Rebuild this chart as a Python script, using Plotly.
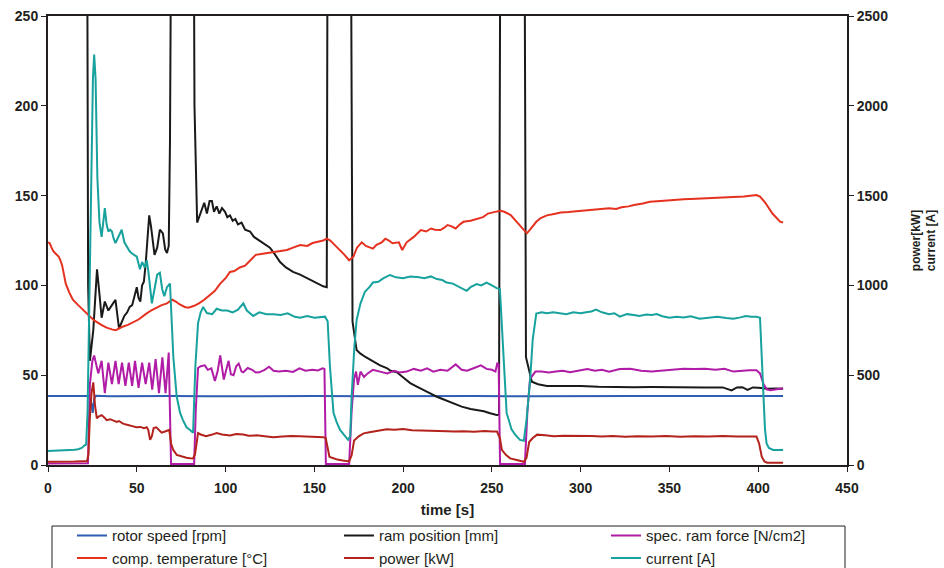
import plotly.graph_objects as go

# ---------------- data ----------------
x_ticks = [0, 50, 100, 150, 200, 250, 300, 350, 400, 450]

t_rotor = [0, 10, 20, 23, 24.5, 25.2, 26, 27, 35, 50, 70, 90, 120, 150, 180, 210, 240, 270, 300, 330, 360, 390, 414]
rotor_speed = [38.4, 38.5, 38.4, 38.4, 34, 29, 37, 38.6, 38.3, 38.5, 38.4, 38.3, 38.5, 38.4, 38.3, 38.5, 38.4, 38.3, 38.5, 38.4, 38.4, 38.5, 38.4]

t_ram = [0, 22.0, 22.6, 23.6, 25.5, 27.6, 29, 30.2, 32, 34, 36, 38, 40, 41.7, 43, 44.6, 46, 47.4, 49, 50,
         51, 52, 53, 54, 55, 56, 57, 58, 60, 61.5, 63, 64.7, 66, 67, 68, 68.7, 69.5, 82.0, 82.5, 84,
         86, 88, 89.5, 91, 92.3, 93.5, 95, 96.5, 98, 99.7, 101, 102.5, 104, 105.5, 107, 109, 111, 113.8, 116, 119,
         122, 125, 128, 130.7, 134, 138, 142, 146, 150, 153, 155, 157, 157.5, 170.5, 171.5, 173.8, 176, 179, 181.4, 184,
         187, 190.8, 193, 196.5, 200, 204, 208, 211.6, 215, 219, 224, 228.5, 233, 238, 242, 245.5, 249, 252.7, 254, 254.8,
         268.3, 269.2, 272.5, 276, 281, 290, 300, 310, 315, 320, 330, 340, 350, 360, 370, 380, 385, 388, 391, 394,
         397, 400, 405, 410, 414]
ram_position = [330, 330, 100, 58, 75, 109, 95, 82, 91, 86, 89, 92, 76, 80, 83, 85, 88, 89, 96, 99,
                93, 91, 100, 102, 112, 125, 139, 133, 117, 121, 131, 129, 120, 118, 122, 180, 330, 330, 200, 135,
                140, 146, 140, 147, 147, 141, 144, 140, 143, 141, 138, 139, 136, 137, 134, 135, 131, 130, 127, 125,
                123, 121, 117, 113, 110, 107.5, 106, 104, 102, 100.5, 99.5, 99, 330, 330, 80, 64, 62, 60, 58.5, 57,
                55.5, 54, 52.5, 51.6, 49, 45.6, 43.5, 41.9, 40, 38, 36, 34, 32.5, 31.2, 30.5, 29.9, 28.8, 27.8, 28, 330,
                330, 60, 46.4, 45, 44, 44, 44, 43.5, 43.4, 43.4, 43.3, 43.4, 43.2, 43.3, 43.2, 43.2, 41.5, 43.2, 43.3, 41.8,
                43.2, 43, 42.5, 42.6, 42.5]

t_force = [0, 5, 10, 15, 20, 22.5, 23.6, 25, 26, 28.3, 30.2, 32, 34, 36, 38, 39.8, 41.7, 43.6, 45.5, 47.4,
           49, 51, 53, 55, 57, 58.7, 60.6, 62.5, 64.4, 66.2, 68, 68.7, 69.3, 82.3, 83.2, 84.5, 86, 88.3, 90, 92,
           94, 95.5, 97, 99, 100.5, 101.7, 103, 104.5, 106, 107.4, 109, 110, 112.5, 115, 117, 119, 122, 124.5, 127, 130,
           134, 138, 141.6, 145, 149, 152, 154.7, 155.7, 156.5, 169.6, 171, 172.4, 173.5, 174.5, 176, 178, 180, 183, 187, 191,
           195, 198, 202, 206, 210, 213.5, 217, 221, 225, 229.6, 233, 236, 240, 243.8, 247, 250, 252, 253, 253.8, 254.6,
           268.6, 270, 271.5, 273, 274.5, 278, 282, 286, 290, 294, 298, 303.8, 308, 312, 316, 322, 328, 334, 340, 346,
           352, 358, 364, 370, 376, 381, 386, 390, 395, 399, 401, 403, 405, 407, 410, 414]
spec_ram_force = [0.8, 0.8, 0.9, 0.8, 0.9, 1, 45, 58, 61, 51, 58, 40, 57, 45, 58, 45, 57, 44, 57, 44,
                  58, 43, 57, 45, 57, 42, 59, 40, 60, 40, 62.6, 30, 0.5, 0.5, 30, 54, 55, 55.5, 53, 53.8,
                  46.8, 52, 61, 47.6, 54, 58, 50.5, 50, 55, 56.5, 52, 51.6, 54, 53, 51.5, 51.6, 53, 54.7, 52.5, 52,
                  52.5, 51.8, 53.8, 52.5, 53, 52.6, 53.8, 53.5, 0.5, 0.5, 30, 48, 52, 44.6, 52, 49, 51, 53, 52, 51,
                  52.5, 51.5, 52, 53.5, 52.5, 53.8, 52, 53, 52.5, 56, 53, 52.5, 54, 55.5, 53.5, 53, 52, 56.5, 56, 0.5,
                  0.5, 30, 48, 50, 52, 52, 51.5, 52, 52.5, 51.6, 52.5, 53.4, 52.5, 53, 52, 53.5, 53.6, 52.5, 52, 52.5,
                  53, 53.6, 53.5, 53.6, 53, 53.6, 52, 52.5, 52.8, 52.7, 51, 45, 42, 41.6, 42.2, 42.7]

t_temp = [0, 1, 2, 3, 4.5, 6, 7, 8, 9, 10, 12, 14, 17, 20, 23, 26, 30, 33, 36, 38,
          40, 42, 45, 48, 51, 55, 58, 61, 64, 67, 70, 72, 74, 77, 79, 82, 85, 88, 91, 94,
          97, 100, 102.5, 105, 108, 111, 114, 117, 120, 124, 127, 131, 134.6, 138, 142, 146, 149, 152, 155, 157,
          159, 161, 164.5, 167, 169.6, 172, 174, 176.7, 179, 181.4, 183, 185, 188, 190, 192, 194, 197.6, 199.5, 202, 206,
          210, 213, 215.7, 218, 221, 223, 225, 227, 229.6, 232, 234, 238, 242, 245, 247.8, 251, 253, 255, 257, 260.6,
          263, 266.3, 268, 269.7, 271.5, 273, 275, 277.5, 281, 285, 288.8, 293, 298, 303.8, 308, 312, 316, 320, 323, 327,
          330, 335, 339, 345, 350, 358, 365, 370, 377, 385, 392, 399, 401, 404, 408, 412.3, 414]
comp_temperature = [124, 123.5, 121, 119, 117.5, 116, 114, 111, 106, 101, 96, 92, 89, 86, 83, 80.5, 78, 76.5, 75.5, 75,
                    76, 77, 78, 79.5, 81, 84, 86, 87.5, 89, 90, 92, 91, 89.5, 88, 87.6, 88.5, 90, 92, 94.6, 97,
                    101, 104, 107.5, 108, 110, 111, 114, 117, 117.5, 118, 118.6, 119, 119.7, 121, 122.5, 122, 123.6, 124.3, 125, 126,
                    125, 123, 119.7, 117, 114, 116, 121, 124, 122, 121, 120.5, 122.6, 124, 126, 125, 123.5, 124, 119.7, 124, 127,
                    130.8, 130, 131.7, 131, 130.8, 132, 133.6, 133, 131.7, 134, 135.4, 136, 137.3, 138, 140, 140.5, 141.2, 141.6, 141, 139.2,
                    136.5, 132.7, 130.5, 129, 131, 133, 135.4, 137.5, 139, 139.8, 140.6, 140.8, 141.2, 141.8, 142, 142.5, 143, 142.5, 143.5, 144,
                    144.8, 145.6, 146.6, 147, 147.5, 148, 148.2, 148.5, 148.6, 149, 149.5, 150.3, 149.5, 146, 140, 135.5, 135]

t_power = [0, 5, 10, 15, 20, 22, 22.8, 23.5, 24.5, 25.5, 26.5, 27.5, 28.5, 30.2, 32, 33, 35, 37, 38.7, 40,
           42, 44, 46, 48, 49.8, 52, 54, 55.6, 56.5, 57.5, 58.5, 59.5, 61, 62.5, 64, 65.5, 66.6, 68.3, 69.3, 70.5,
           72.5, 75, 78, 80, 81.7, 82.8, 83.8, 84.5, 86, 89, 92, 95, 98, 102.5, 106, 110, 113, 117.5, 122, 127,
           132, 137, 142, 147, 151, 155, 156.4, 157.5, 158.5, 160, 163, 166, 169.6, 171, 172.4, 175, 177.8, 181, 185, 190.8,
           195, 200, 205, 209.5, 215, 220, 225, 228.5, 234, 240, 246, 250, 252.9, 254.5, 255.6, 258, 260.3, 264, 268, 269.5,
           271, 273, 275.5, 280, 285, 290, 294, 300, 306, 312, 318, 325, 332, 340, 348, 356, 364, 372, 380, 388,
           395, 399, 400.5, 402, 403.5, 405, 408, 414]
power = [18, 17, 18, 19, 21, 22, 60, 250, 400, 460, 330, 260, 270, 278, 262, 250, 255, 245, 240, 245,
         232, 225, 222, 215, 210, 212, 205, 210, 195, 140, 160, 206, 210, 195, 180, 185, 190, 195, 120, 84,
         56, 48, 40, 37, 36, 60, 150, 178, 170, 160, 168, 178, 170, 165, 172, 170, 163, 165, 160, 154,
         158, 162, 160, 158, 160, 155, 150, 95, 46, 40, 30, 25, 20, 55, 137, 160, 176, 182, 190, 199,
         196, 200, 193, 192, 194, 190, 188, 186, 188, 185, 190, 186, 186, 150, 84, 55, 37, 28, 18, 40,
         128, 150, 169, 165, 160, 163, 163, 160, 162, 158, 161, 157, 160, 159, 161, 157, 160, 158, 161, 158,
         160, 158, 120, 46, 20, 13, 13, 13]

t_current = [0, 3, 6, 9, 12, 15, 17, 19, 20.5, 21.5, 22.3, 23.3, 24.5, 25.3, 26, 26.8, 27.8, 29, 30.2, 31.2,
             32, 33, 34, 35, 36, 37, 38, 38.7, 39.5, 40.5, 41.5, 43, 44.6, 46, 47, 48.5, 50, 51.8, 53, 54.5,
             55.6, 56.5, 57.5, 58.5, 60, 61.5, 63, 64.3, 65.5, 67, 68.7, 69.7, 70.6, 72.5, 74.4, 76, 78, 80, 81.7, 83,
             84.5, 86, 87.4, 89.5, 92.5, 95, 98, 101, 104, 107, 110, 112, 115.6, 119, 123, 127, 131, 135, 139, 142,
             146, 150, 153, 156, 157.5, 158.8, 160.8, 162.5, 164.5, 167, 169, 170.2, 171, 172.5, 173.8, 176, 178.5, 181, 183, 186,
             189, 192.6, 196, 200, 204, 209, 212, 215.6, 219, 222, 224.5, 228, 232, 235.8, 238, 241.4, 244, 247, 250, 252.7,
             254.5, 256, 258.3, 261, 263, 265.8, 268, 269.5, 271.5, 273, 275, 278, 281, 284.5, 288, 292, 295.8, 300, 303, 306,
             308.6, 312, 316, 319, 322, 326, 330, 333, 337, 340, 342.8, 346, 350, 354, 358, 362, 367, 372, 377, 382,
             386, 390, 393, 396, 399, 401, 402, 402.8, 403.8, 404.7, 406, 408.4, 411, 414]
current = [78, 79, 80, 81, 82, 85, 88, 95, 108, 115, 300, 900, 1700, 2150, 2285, 2150, 1600, 1350, 1270, 1380,
           1430, 1340, 1300, 1310, 1300, 1260, 1235, 1250, 1270, 1290, 1310, 1240, 1210, 1190, 1180, 1170, 1160, 1090, 1130, 1100,
           1140, 1080, 980, 900, 980, 1060, 1070, 980, 940, 990, 1010, 800, 600, 380, 290, 250, 210, 195, 180, 550,
           790, 850, 880, 846, 840, 870, 860, 860, 850, 865, 900, 860, 830, 850, 840, 840, 835, 845, 825, 820,
           830, 820, 825, 826, 800, 547, 290, 240, 195, 165, 140, 160, 380, 650, 807, 900, 965, 990, 1016, 1020,
           1040, 1058, 1045, 1040, 1050, 1045, 1040, 1050, 1035, 1030, 1016, 1010, 990, 970, 990, 1007, 1000, 1016, 1000, 985,
           980, 700, 290, 200, 170, 140, 135, 250, 470, 700, 843, 850, 845, 850, 845, 840, 850, 845, 850, 855,
           865, 850, 840, 845, 826, 840, 835, 830, 838, 835, 840, 828, 820, 826, 822, 828, 815, 820, 825, 818,
           815, 822, 830, 825, 825, 820, 600, 380, 200, 120, 95, 84, 84, 84]

pairs = [(t_rotor, rotor_speed), (t_ram, ram_position), (t_force, spec_ram_force),
         (t_temp, comp_temperature), (t_power, power), (t_current, current)]
for i, (a, b) in enumerate(pairs):
    if len(a) != len(b):
        raise ValueError(f"series {i}: {len(a)} vs {len(b)}")

# ---------------- figure ----------------
FONT = "Liberation Sans, Arial, sans-serif"
INK = "#231f20"

fig = go.Figure()
series = [
    ("rotor speed [rpm]", t_rotor, rotor_speed, "#2f5db3", "y"),
    ("ram position [mm]", t_ram, ram_position, "#1a1a1a", "y"),
    ("spec. ram force [N/cm2]", t_force, spec_ram_force, "#b01ca6", "y"),
    ("comp. temperature [°C]", t_temp, comp_temperature, "#e5311f", "y"),
    ("power [kW]", t_power, power, "#b3221b", "y2"),
    ("current [A]", t_current, current, "#17a29e", "y2"),
]
for name, tx, vy, col, ax in series:
    fig.add_trace(go.Scatter(x=tx, y=vy, name=name, mode="lines", yaxis=ax,
                             line=dict(color=col, width=2)))

tickfont = dict(family=FONT, size=14, color=INK, weight="bold")
common = dict(showgrid=False, zeroline=False, showline=True, linecolor=INK, linewidth=2,
              ticks="outside", ticklen=5, tickwidth=1, tickcolor=INK, tickfont=tickfont,
              automargin=False)

fig.update_layout(
    width=944, height=568,
    margin=dict(l=48, r=97, t=16, b=103, autoexpand=False),
    plot_bgcolor="white", paper_bgcolor="white",
    font=dict(family=FONT, color=INK),
    xaxis=dict(range=[0, 450], tickvals=x_ticks, mirror=True, ticklabelstandoff=4,
               title=dict(text="time [s]", font=dict(family=FONT, size=15, color=INK, weight="bold"), standoff=10),
               **common),
    yaxis=dict(range=[0, 250], dtick=50, **common),
    yaxis2=dict(range=[0, 2500], dtick=500, overlaying="y", side="right",
                title=dict(text="power[kW]<br>current [A]",
                           font=dict(family=FONT, size=12, color=INK, weight="bold"), standoff=24),
                **common),
    legend=dict(orientation="h", x=0.03, y=-0.121, xanchor="left", yanchor="top",
                entrywidth=222, bgcolor="rgba(0,0,0,0)", borderwidth=0,
                font=dict(family=FONT, size=15, color=INK), tracegroupgap=0),
    shapes=[dict(type="rect", xref="paper", yref="paper", x0=0.005, x1=0.9975,
                 y0=-0.1359, y1=-0.40, line=dict(color=INK, width=1), layer="below")],
    showlegend=True,
)

fig.write_html("out.html")
